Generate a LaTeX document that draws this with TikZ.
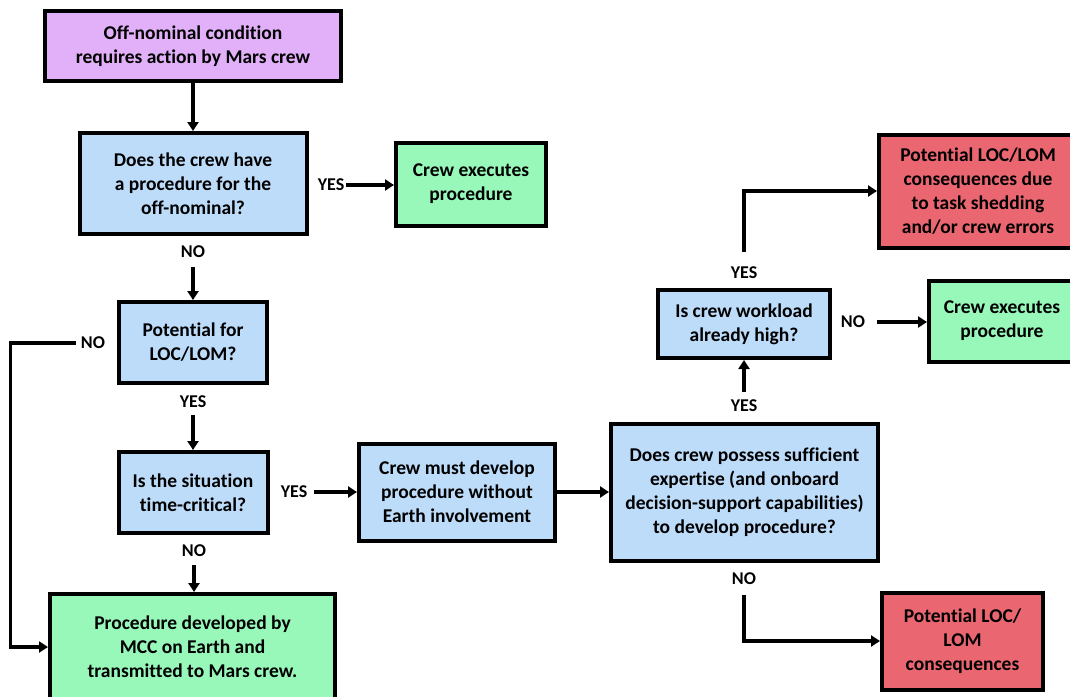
\documentclass[tikz,border=0pt]{standalone}
\usepackage{fontspec}
\setmainfont{Carlito}[Ligatures={NoCommon,NoRare}]
\usetikzlibrary{arrows.meta}
\definecolor{startfill}{RGB}{225,176,248}
\definecolor{askfill}{RGB}{189,220,250}
\definecolor{okfill}{RGB}{152,248,185}
\definecolor{riskfill}{RGB}{234,102,112}
\begin{document}
\begin{tikzpicture}[x=1pt,y=-1pt,
  flowbox/.style={draw=black,line width=4pt,align=center,inner sep=0pt,
    font=\bfseries\fontsize{19.5}{24}\selectfont},
  startbox/.style={flowbox,fill=startfill},
  askbox/.style={flowbox,fill=askfill},
  okbox/.style={flowbox,fill=okfill},
  riskbox/.style={flowbox,fill=riskfill},
  lbl/.style={inner sep=0pt,font=\bfseries\fontsize{18}{22}\selectfont},
  arr/.style={line width=3.4pt,-{Triangle[length=9pt,width=11pt]}}]
\path[use as bounding box,fill=white] (0,0) rectangle (1070,696);
% Drawing boxes
\node[startbox,minimum width=296,minimum height=70] (start) at (193,46) {Off-nominal condition\\requires action by Mars crew};
\node[askbox,minimum width=227,minimum height=101] (q1) at (193,183.5) {Does the crew have\\a procedure for the\\off-nominal?};
\node[okbox,minimum width=150,minimum height=83] (exec1) at (471,184) {Crew executes\\procedure};
\node[askbox,minimum width=148,minimum height=81] (q2) at (193,342.5) {Potential for\\LOC/LOM?};
\node[askbox,minimum width=149,minimum height=81] (q3) at (193,492.5) {Is the situation\\time-critical?};
\node[okbox,minimum width=285,minimum height=106] (mcc) at (192.5,647) {Procedure developed by\\MCC on Earth and\\transmitted to Mars crew.};
\node[askbox,minimum width=196,minimum height=97] (dev) at (457,492) {Crew must develop\\procedure without\\Earth involvement};
\node[askbox,minimum width=267,minimum height=137] (bigq) at (744.5,492) {Does crew possess sufficient\\expertise (and onboard\\decision-support capabilities)\\to develop procedure?};
\node[askbox,minimum width=172,minimum height=68] (wl) at (744,324) {Is crew workload\\already high?};
\node[riskbox,minimum width=198,minimum height=113] (red1) at (978,191) {Potential LOC/LOM\\consequences due\\to task shedding\\and/or crew errors};
\node[okbox,minimum width=146,minimum height=81] (exec2) at (1002,321) {Crew executes\\procedure};
\node[riskbox,minimum width=161,minimum height=97] (red2) at (962.5,641) {Potential LOC/\\LOM\\consequences};
% Done with boxes; drawing labels
\node[lbl] (yes1) at (331,185) {YES};
\node[lbl] (no1) at (193,252) {NO};
\node[lbl] (no2) at (93,343) {NO};
\node[lbl] (yes2) at (193,402) {YES};
\node[lbl] (yes3) at (294,492) {YES};
\node[lbl] (no3) at (194,551) {NO};
\node[lbl] (yes4) at (744,406) {YES};
\node[lbl] (yes5) at (744,273) {YES};
\node[lbl] (no5) at (853,322) {NO};
\node[lbl] (no4) at (744,579) {NO};
% Done with labels; drawing arrows
\draw[arr] (start) -- (q1);
\draw[arr,shorten <=2pt] (yes1.east) -- (yes1.east -| exec1.west);
\draw[arr,shorten <=9pt] (no1.south) -- (no1.south |- q2.north);
\draw[arr,shorten <=5pt] (no2.west) -- ++(-70,0) |- (mcc.west);
\draw[arr,shorten <=7pt] (yes2.south) -- (yes2.south |- q3.north);
\draw[arr,shorten <=7pt] (yes3.east) -- (yes3.east -| dev.west);
\draw[arr] (dev) -- (bigq);
\draw[arr,shorten <=8pt] (no3.south) -- (no3.south |- mcc.north);
\draw[arr,shorten <=8pt] (yes4.north) -- (yes4.north |- wl.south);
\draw[arr,shorten <=15pt] (yes5.north) |- (red1.west);
\draw[arr,shorten <=12pt] (no5.east) -- (no5.east -| exec2.west);
\draw[arr,shorten <=10pt] (no4.south) |- (red2.west);
% Done with arrows
\end{tikzpicture}
\end{document}
